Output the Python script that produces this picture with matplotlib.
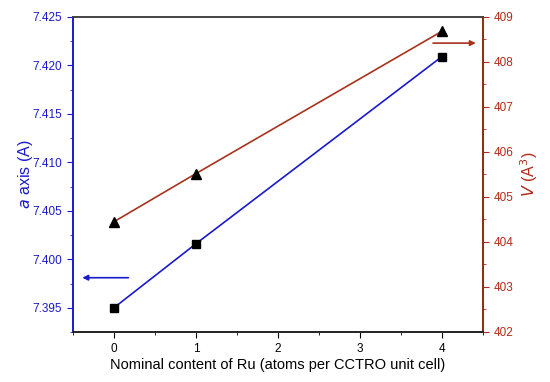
import matplotlib
matplotlib.use("Agg")
import matplotlib.pyplot as plt
from matplotlib.ticker import MultipleLocator

plt.rcParams['font.family'] = ['Liberation Sans', 'DejaVu Sans']

ru_content = [0, 1, 4]
a_axis = [7.395, 7.4016, 7.4209]
volume = [404.45, 405.52, 408.68]

blue = '#1a1acc'
red = '#a8331c'
lab_red = '#b22a1a'

fig = plt.figure(figsize=(5.5, 3.82), dpi=100)
ax = fig.add_axes([0.1327, 0.1309, 0.8776 - 0.1327, 0.9555 - 0.1309])
ax2 = ax.twinx()

ax.plot(ru_content, a_axis, color=blue, lw=1.2, marker='s', ms=6,
        mfc='black', mec='black', zorder=3)
ax2.plot(ru_content, volume, color=red, lw=1.2, marker='^', ms=7,
         mfc='black', mec='black', zorder=3)

ax.set_xlim(-0.5, 4.5)
ax.set_ylim(7.3925, 7.425)
ax2.set_ylim(402, 409)

ax.xaxis.set_major_locator(MultipleLocator(1))
ax.xaxis.set_minor_locator(MultipleLocator(0.5))
ax.yaxis.set_major_locator(MultipleLocator(0.005))
ax.yaxis.set_minor_locator(MultipleLocator(0.0025))
ax2.yaxis.set_major_locator(MultipleLocator(1))
ax2.yaxis.set_minor_locator(MultipleLocator(0.5))
ax.yaxis.set_major_formatter(plt.FormatStrFormatter('%.3f'))

ax.tick_params(axis='x', which='both', direction='out', colors='black', labelsize=8.5)
ax.tick_params(axis='x', which='major', length=4.5)
ax.tick_params(axis='x', which='minor', length=2.5)
ax.tick_params(axis='y', which='both', direction='out', colors=blue, labelsize=8.5)
ax.tick_params(axis='y', which='major', length=4.5)
ax.tick_params(axis='y', which='minor', length=2.5)
ax2.tick_params(axis='y', which='both', direction='out', colors=lab_red, labelsize=8.5)
ax2.tick_params(axis='y', which='major', length=4.5)
ax2.tick_params(axis='y', which='minor', length=2.5)

for a in (ax, ax2):
    a.spines['top'].set_color('#444444')
    a.spines['bottom'].set_color('#222222')
    a.spines['left'].set_color(blue)
    a.spines['right'].set_color('#8b2a10')
    for s in a.spines.values():
        s.set_linewidth(1.2)

ax.set_xlabel('Nominal content of Ru (atoms per CCTRO unit cell)', fontsize=10.5, labelpad=2)
ax.set_ylabel(r'$\it{a}$ axis (A)', color=blue, fontsize=11.5, labelpad=-2)
ax2.set_ylabel(r'$\it{V}$ (A$^3$)', color=lab_red, fontsize=11.5, labelpad=3)

ax.annotate('', xy=(-0.42, 7.3981), xytext=(0.21, 7.3981),
            arrowprops=dict(arrowstyle='-|>', color=blue, lw=1.2,
                            mutation_scale=8))
ax2.annotate('', xy=(4.45, 408.42), xytext=(3.86, 408.42),
             arrowprops=dict(arrowstyle='-|>', color=red, lw=1.2,
                             mutation_scale=8))

fig.savefig('out.png', dpi=100)
